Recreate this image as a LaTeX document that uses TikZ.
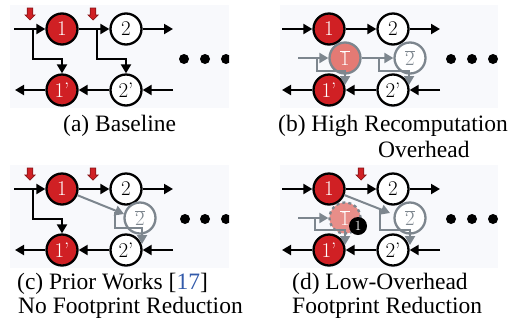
\documentclass[tikz,border=0pt]{standalone}
\usepackage{fontspec}
\newfontfamily\capfont{Liberation Serif}
\usetikzlibrary{arrows.meta}
\definecolor{nodered}{RGB}{208,32,36}
\definecolor{softred}{RGB}{228,122,116}
\definecolor{linegray}{RGB}{125,134,142}
\definecolor{panelbg}{RGB}{248,249,252}
\definecolor{citeblue}{RGB}{50,90,170}
\begin{document}
\begin{tikzpicture}[x=1pt,y=-1pt,
  arr/.style={line width=2pt,-{Triangle[length=9pt,width=10pt]}},
  garr/.style={arr,color=linegray},
  op/.style={circle,minimum size=31pt,inner sep=0pt,line width=2.3pt,font=\fontsize{21}{21}\selectfont},
  redop/.style={op,draw=black,fill=nodered,text=white},
  whiteop/.style={op,draw=black,fill=white,text=black},
  recop/.style={op,draw=linegray,fill=softred,text=white},
  ghostop/.style={op,draw=linegray,fill=white,text=linegray},
  dotnode/.style={circle,fill=black,minimum size=10pt,inner sep=0pt},
  badge/.style={circle,fill=black,minimum size=18pt,inner sep=0pt,text=white,font=\fontsize{14}{14}\selectfont},
  captext/.style={anchor=base west,inner sep=0pt,font=\capfont\fontsize{23.5}{26}\selectfont},
  dropmark/.pic={\filldraw[fill=nodered,draw=nodered!65!black,line width=0.7pt]
     (-2.8,0) -- (2.8,0) -- (2.8,7) -- (5,7) -- (0,12) -- (-5,7) -- (-2.8,7) -- cycle;},
  panel/.style={fill=panelbg}
]
\useasboundingbox (0,0) rectangle (527,325);

% ---------- (a) Baseline ----------
\begin{scope}
  \fill[panel] (10,5) rectangle (229,108);
  \clip (10,5) rectangle (229,108);
  \node[redop]   (a1)  at (62,29)  {1};
  \node[whiteop] (a2)  at (126,29) {2};
  \node[redop]   (a1p) at (62,90)  {1’};
  \node[whiteop] (a2p) at (126,90) {2’};
  \coordinate (ain)   at (14,29);
  \coordinate (aout)  at (173,29);
  \coordinate (abin)  at (173,90);
  \coordinate (about) at (15,90);
  \coordinate (ab1)   at (33,29);
  \coordinate (ab2)   at (97,29);
  \draw[arr] (ain) -- (a1);
  \draw[arr] (a1) -- (a2);
  \draw[arr] (a2) -- (aout);
  \draw[arr] (ab1) -- ++(0,30) -| (a1p);
  \draw[arr] (ab2) -- ++(0,30) -| (a2p);
  \draw[arr] (abin) -- (a2p);
  \draw[arr] (a2p) -- (a1p);
  \draw[arr] (a1p) -- (about);
  \pic at (30,8) {dropmark};
  \pic at (93,8) {dropmark};
  \node[dotnode] (ad1) at (184,59) {};
  \node[dotnode] (ad2) at (205,59) {};
  \node[dotnode] (ad3) at (226,59) {};
\end{scope}

% ---------- (b) High recomputation overhead ----------
\begin{scope}[shift={(267,0)}]
  \fill[panel] (13,5) rectangle (231,108);
  \clip (13,5) rectangle (231,108);
  \node[redop]   (b1)  at (62,29)  {1};
  \node[whiteop] (b2)  at (126,29) {2};
  \node[redop]   (b1p) at (62,90)  {1’};
  \node[whiteop] (b2p) at (126,90) {2’};
  \coordinate (bin)   at (15,29);
  \coordinate (bout)  at (173,29);
  \coordinate (bbin)  at (173,90);
  \coordinate (bbout) at (15,90);
  \draw[arr] (bin) -- (b1);
  \draw[arr] (b1) -- (b2);
  \draw[arr] (b2) -- (bout);
  \draw[arr] (bbin) -- (b2p);
  \draw[arr] (b2p) -- (b1p);
  \draw[arr] (b1p) -- (bbout);
  % recomputed forward pass
  \node[recop]   (b1r) at (78,58)  {$\overline{1}$};
  \node[ghostop] (b2r) at (143,58) {$\overline{2}$};
  \coordinate (bgin) at (31,58);
  \coordinate (bg1)  at (50,58);
  \coordinate (bg2)  at (112,58);
  \coordinate (bt1)  at (78,85);
  \coordinate (bt2)  at (142,85);
  \draw[garr] (bgin) -- (b1r);
  \draw[garr] (b1r) -- (b2r);
  \draw[garr] (bg1) -- ++(0,13) -| (bt1);
  \draw[garr] (bg2) -- ++(0,13) -| (bt2);
  \node[dotnode] (bd1) at (184,59) {};
  \node[dotnode] (bd2) at (205,59) {};
  \node[dotnode] (bd3) at (226,59) {};
\end{scope}

% ---------- (c) Prior works ----------
\begin{scope}[shift={(0,160)}]
  \fill[panel] (10,5) rectangle (229,108);
  \clip (10,5) rectangle (229,108);
  \node[redop]   (c1)  at (62,29)  {1};
  \node[whiteop] (c2)  at (126,29) {2};
  \node[redop]   (c1p) at (62,90)  {1’};
  \node[whiteop] (c2p) at (126,90) {2’};
  \coordinate (cin)   at (14,29);
  \coordinate (cout)  at (173,29);
  \coordinate (cbin)  at (173,90);
  \coordinate (cbout) at (15,90);
  \coordinate (cb1)   at (33,29);
  \draw[arr] (cin) -- (c1);
  \draw[arr] (c1) -- (c2);
  \draw[arr] (c2) -- (cout);
  \draw[arr] (cb1) -- ++(0,30) -| (c1p);
  \draw[arr] (cbin) -- (c2p);
  \draw[arr] (c2p) -- (c1p);
  \draw[arr] (c1p) -- (cbout);
  \pic at (30,8) {dropmark};
  \pic at (93,8) {dropmark};
  \node[ghostop] (c2r) at (140,58) {$\overline{2}$};
  \coordinate (ctip) at (124,54);
  \coordinate (cg2)  at (115,52);
  \coordinate (ct2)  at (142,84);
  \draw[garr] (c1) -- (ctip);
  \draw[garr] (cg2) -- ++(0,16) -| (ct2);
  \node[dotnode] (cd1) at (185,59) {};
  \node[dotnode] (cd2) at (205,59) {};
  \node[dotnode] (cd3) at (226,59) {};
\end{scope}

% ---------- (d) Low-overhead footprint reduction ----------
\begin{scope}[shift={(267,160)}]
  \fill[panel] (13,5) rectangle (231,108);
  \clip (13,5) rectangle (231,108);
  \node[redop]   (d1)  at (62,29)  {1};
  \node[whiteop] (d2)  at (126,29) {2};
  \node[redop]   (d1p) at (62,90)  {1’};
  \node[whiteop] (d2p) at (126,90) {2’};
  \coordinate (din)   at (15,29);
  \coordinate (dout)  at (173,29);
  \coordinate (dbin)  at (173,90);
  \coordinate (dbout) at (15,90);
  \draw[arr] (din) -- (d1);
  \draw[arr] (d1) -- (d2);
  \draw[arr] (d2) -- (dout);
  \draw[arr] (dbin) -- (d2p);
  \draw[arr] (d2p) -- (d1p);
  \draw[arr] (d1p) -- (dbout);
  \pic at (94,8) {dropmark};
  \node[recop,dashed,fill=softred!85] (d1r) at (78,58) {$\overline{1}$};
  \node[ghostop] (d2r) at (143,58) {$\overline{2}$};
  \coordinate (dgin) at (31,58);
  \coordinate (dg1)  at (48,58);
  \coordinate (dt1)  at (78,85);
  \coordinate (dtip) at (123,53);
  \coordinate (dg2)  at (113,50);
  \coordinate (dt2)  at (143,85);
  \draw[garr] (dgin) -- (d1r);
  \draw[garr] (dg1) -- ++(0,12) -| (dt1);
  \draw[garr] (d1) -- (dtip);
  \draw[garr] (dg2) -- ++(0,20) -| (dt2);
  \node[badge] (dbadge) at (91,66) {1};
  \node[dotnode] (dd1) at (184,59) {};
  \node[dotnode] (dd2) at (205,59) {};
  \node[dotnode] (dd3) at (226,59) {};
\end{scope}

% ---------- captions ----------
\node[captext] (capa)  at (63,131)  {(a) Baseline};
\node[captext] (capb)  at (278,131) {(b) High Recomputation};
\node[captext] (capb2) at (378,157) {Overhead};
\node[captext] (capc)  at (17,289)  {(c) Prior Works [\textcolor{citeblue}{17}]};
\node[captext] (capc2) at (18,313)  {No Footprint Reduction};
\node[captext] (capd)  at (292,289) {(d) Low-Overhead};
\node[captext] (capd2) at (292,313) {Footprint Reduction};
\end{tikzpicture}
\end{document}
